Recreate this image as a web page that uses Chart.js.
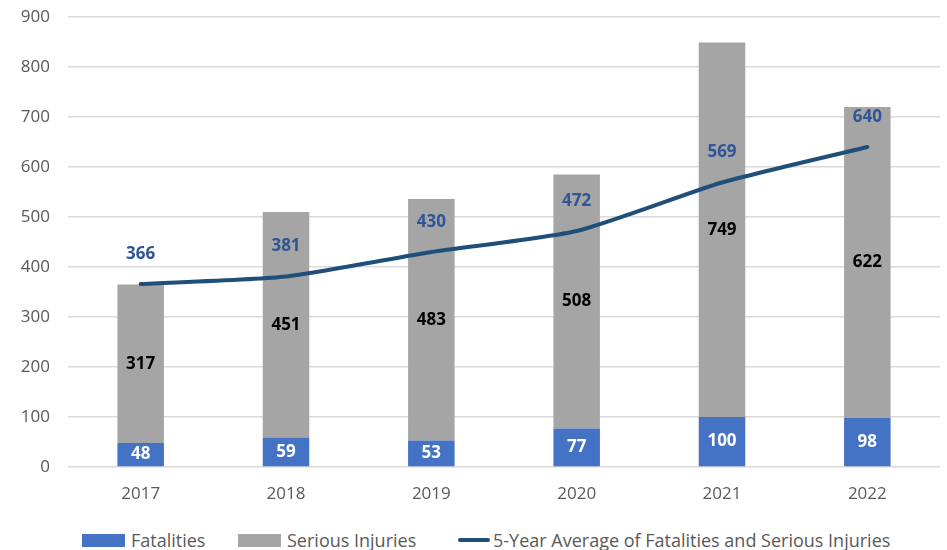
<!DOCTYPE html>
<html>
<head>
<meta charset="utf-8">
<script src="https://cdn.jsdelivr.net/npm/chart.js@4"></script>
<style>
  body { margin: 0; background: #fff; font-family: "Open Sans", "Liberation Sans", sans-serif; }
  #wrap { position: relative; width: 947px; height: 510px; }
  #legend { position: relative; height: 40px; font-size: 18px; color: #595959; }
  .item { position: absolute; top: 30px; transform: translateY(-50%); display: flex; align-items: center; white-space: nowrap; }
  .box { width: 43px; height: 13px; margin-right: 6px; }
  .line { width: 32px; height: 4px; border-radius: 2px; margin-right: 3px; }
</style>
</head>
<body>
<div id="wrap"><canvas id="chart"></canvas></div>
<div id="legend"></div>
<script>
// datos del gráfico
const anos = ['2017', '2018', '2019', '2020', '2021', '2022'];
const fatalidades = [48, 59, 53, 77, 100, 98];
const lesionesGraves = [317, 451, 483, 508, 749, 622];
const promedio5 = [366, 381, 430, 472, 569, 640];
const ticksY = [0, 100, 200, 300, 400, 500, 600, 700, 800, 900];

const nombres = ['Fatalities', 'Serious Injuries', '5-Year Average of Fatalities and Serious Injuries'];
const colores = ['#4472C4', '#A5A5A5', '#1F4E79'];
const coloresEtiqueta = ['#ffffff', '#000000', '#2F5597'];
const fuente = '"Open Sans", "Liberation Sans", sans-serif';

/* etiquetas de valores */
const etiquetas = {
  id: 'etiquetas',
  afterDatasetsDraw(chart) {
    const ctx = chart.ctx;
    ctx.save();
    ctx.font = 'bold 17px ' + fuente;
    ctx.textAlign = 'center';
    ctx.textBaseline = 'middle';
    chart.data.datasets.forEach((ds, i) => {
      const meta = chart.getDatasetMeta(i);
      ctx.fillStyle = ds.colorEtiqueta;
      meta.data.forEach((el, j) => {
        let y;
        if (ds.type === 'line') {
          y = el.y - 30;
        } else {
          y = (el.y + el.base) / 2;
        }
        ctx.fillText(ds.data[j], el.x, y);
      });
    });
    ctx.restore();
  }
};

const ctx = document.getElementById('chart').getContext('2d');
new Chart(ctx, {
  type: 'bar',
  data: {
    labels: anos,
    datasets: [
      {
        type: 'line',
        label: nombres[2],
        data: promedio5,
        borderColor: colores[2],
        colorEtiqueta: coloresEtiqueta[2],
        borderWidth: 4,
        pointRadius: 0,
        tension: 0.2,
        borderCapStyle: 'round',
        order: 0
      },
      {
        label: nombres[0],
        data: fatalidades,
        backgroundColor: colores[0],
        colorEtiqueta: coloresEtiqueta[0],
        stack: 'a',
        order: 1,
        categoryPercentage: 1,
        barPercentage: 0.32
      },
      {
        label: nombres[1],
        data: lesionesGraves,
        backgroundColor: colores[1],
        colorEtiqueta: coloresEtiqueta[1],
        stack: 'a',
        order: 1,
        categoryPercentage: 1,
        barPercentage: 0.32
      }
    ]
  },
  options: {
    responsive: true,
    maintainAspectRatio: false,
    animation: false,
    layout: { padding: { top: 17, right: 7, left: 0, bottom: 0 } },
    scales: {
      x: {
        stacked: true,
        grid: { display: false },
        border: { display: false },
        ticks: { color: '#595959', font: { size: 17, family: fuente }, padding: 9 },
        afterFit(scale) { scale.height = 43; }
      },
      y: {
        stacked: true,
        min: 0,
        max: 900,
        afterBuildTicks(scale) { scale.ticks = ticksY.map(v => ({ value: v })); },
        grid: { color: '#d9d9d9', lineWidth: 1.5, drawTicks: false },
        border: { display: false },
        ticks: { color: '#595959', font: { size: 17, family: fuente }, padding: 18 },
        afterFit(scale) {
          scale.width = 68;
          scale.paddingTop = 0;
          scale.paddingBottom = 0;
        }
      }
    },
    plugins: {
      legend: { display: false },
      tooltip: { enabled: false }
    }
  },
  plugins: [etiquetas]
});

/* leyenda */
const leyenda = document.getElementById('legend');
const posLeyenda = [82, 238, 458];
[0, 1, 2].forEach(i => {
  const item = document.createElement('div');
  item.className = 'item';
  item.style.left = posLeyenda[i] + 'px';
  const marca = document.createElement('span');
  marca.className = i === 2 ? 'line' : 'box';
  marca.style.background = colores[i];
  const texto = document.createElement('span');
  texto.textContent = nombres[i];
  item.appendChild(marca);
  item.appendChild(texto);
  leyenda.appendChild(item);
});
</script>
</body>
</html>
